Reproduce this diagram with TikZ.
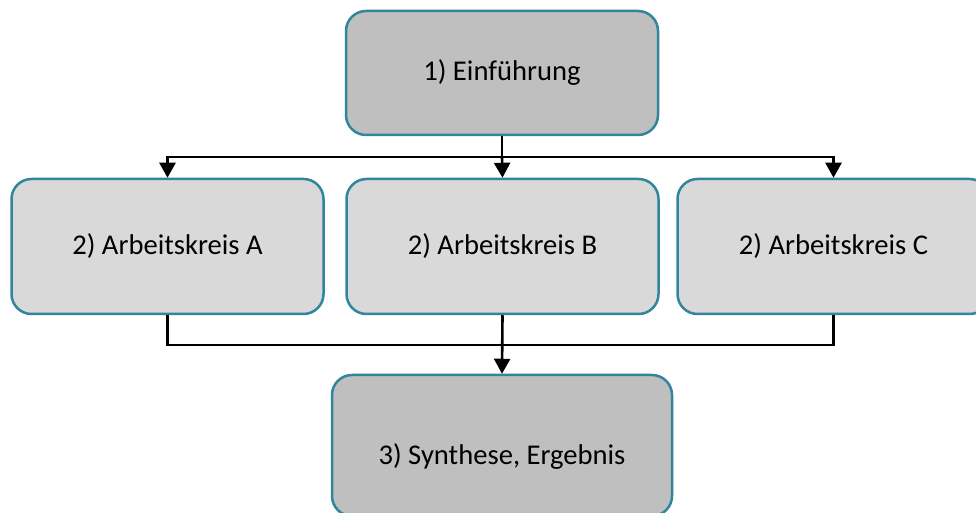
\documentclass[tikz,border=0pt]{standalone}
\usepackage{fontspec}
\setmainfont{Carlito}
\usetikzlibrary{arrows.meta}
\definecolor{bordc}{HTML}{31859C}
\definecolor{darkfill}{HTML}{BFBFBF}
\definecolor{lightfill}{HTML}{D9D9D9}
\begin{document}
\begin{tikzpicture}[x=1pt,y=1pt,
  box/.style={draw=bordc, line width=2.5pt, rounded corners=20pt, inner sep=0pt,
    font=\fontsize{28.6}{33}\selectfont},
  stagebox/.style={box, fill=lightfill, minimum width=312pt, minimum height=135pt},
  conn/.style={draw=black, line width=2.6pt},
  arr/.style={conn, -{Triangle[width=16pt,length=15pt]}}]
\useasboundingbox (0,0) rectangle (976,513);
\fill[white] (0,0) rectangle (976,513);
\clip (0,0) rectangle (976,513);
\node[box, fill=darkfill, minimum width=312pt, minimum height=124pt] (top) at (502,440) {1) Einführung};
\node[stagebox] (A) at (167.5,266.5) {2) Arbeitskreis A};
\node[stagebox] (B) at (502.5,266.5) {2) Arbeitskreis B};
\node[stagebox] (C) at (833.5,266.5) {2) Arbeitskreis C};
\node[box, fill=darkfill, minimum width=340pt, minimum height=141pt] (bot) at (502,67.5) {};
\node[font=\fontsize{28.6}{33}\selectfont] (botlabel) at (502,56) {3) Synthese, Ergebnis};
\coordinate (upsplit) at (502,356);
\coordinate (lowjoin) at (502,168);
\draw[conn] (top.south) -- (upsplit);
\draw[arr] (upsplit) -| (A.north);
\draw[arr] (upsplit) -| (C.north);
\draw[arr] (upsplit) -- (B.north);
\draw[conn] (A.south) |- (lowjoin);
\draw[conn] (C.south) |- (lowjoin);
\draw[arr] (B.south) -- (bot.north);
\end{tikzpicture}
\end{document}
